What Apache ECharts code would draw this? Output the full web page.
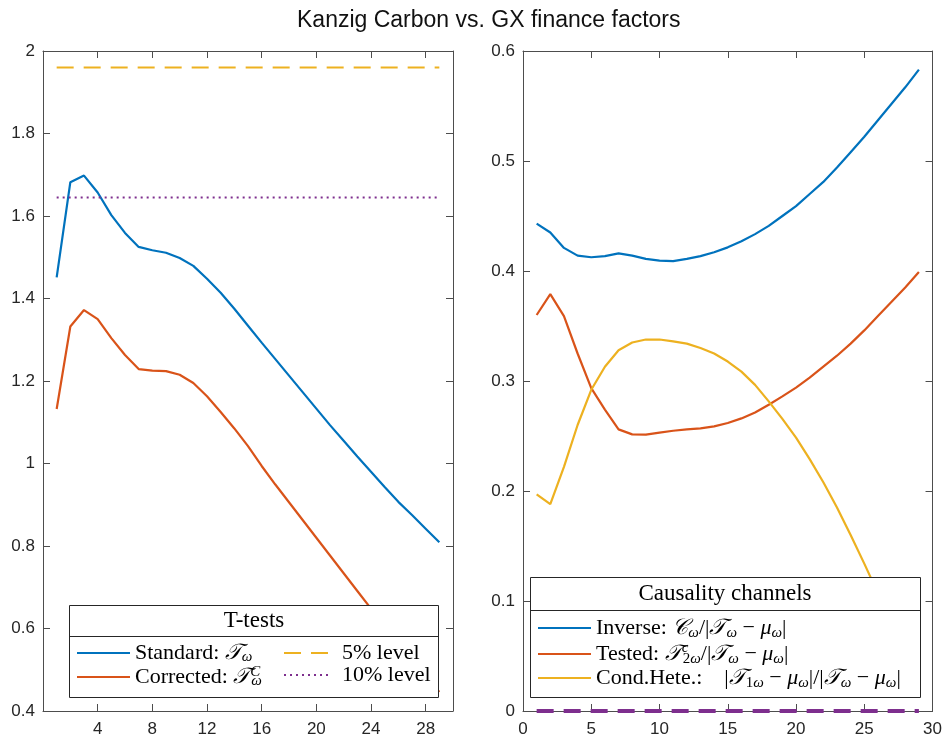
<!DOCTYPE html>
<html>
<head>
<meta charset="utf-8">
<title>Kanzig Carbon vs. GX finance factors</title>
<script src="https://cdn.jsdelivr.net/npm/echarts@6/dist/echarts.min.js"></script>
<style>
  html, body { margin: 0; padding: 0; background: #fff; }
  #chart { width: 945px; height: 738px; }
</style>
</head>
<body>
<div id="chart"></div>
<script>
// horizons (x) shared by both panels
var lags = [1, 2, 3, 4, 5, 6, 7, 8, 9, 10, 11, 12, 13, 14, 15, 16, 17, 18, 19, 20, 21, 22, 23, 24, 25, 26, 27, 28, 29];

// left panel: T-tests
var standardT = [1.451, 1.682, 1.698, 1.657, 1.602, 1.559, 1.525, 1.517, 1.511, 1.498, 1.479, 1.448, 1.414, 1.375, 1.334,
  1.293, 1.253, 1.213, 1.173, 1.133, 1.093, 1.055, 1.017, 0.980, 0.943, 0.907, 0.875, 0.842, 0.809];
var correctedT = [1.132, 1.332, 1.372, 1.350, 1.304, 1.263, 1.229, 1.225, 1.224, 1.215, 1.195, 1.163, 1.125, 1.085, 1.042,
  0.994, 0.949, 0.906, 0.863, 0.820, 0.777, 0.734, 0.691, 0.648, 0.607, 0.566, 0.525, 0.485, 0.446];
var level5 = 1.96;
var level10 = 1.645;

// right panel: causality channels
var inverseCh = [0.443, 0.435, 0.421, 0.414, 0.4125, 0.4135, 0.416, 0.414, 0.411, 0.4095, 0.409, 0.411, 0.4135, 0.417, 0.4215,
  0.427, 0.4335, 0.441, 0.450, 0.459, 0.470, 0.481, 0.494, 0.508, 0.522, 0.537, 0.552, 0.567, 0.583];
var testedCh = [0.360, 0.379, 0.359, 0.325, 0.2935, 0.274, 0.256, 0.2515, 0.2512, 0.253, 0.2548, 0.256, 0.257, 0.2587, 0.2618,
  0.266, 0.2714, 0.2784, 0.286, 0.294, 0.303, 0.313, 0.323, 0.334, 0.346, 0.359, 0.372, 0.385, 0.399];
var condHeteCh = [0.197, 0.188, 0.222, 0.260, 0.292, 0.313, 0.328, 0.335, 0.3377, 0.3377, 0.336, 0.334, 0.330, 0.325, 0.3177,
  0.3085, 0.2965, 0.2815, 0.2655, 0.2485, 0.229, 0.208, 0.185, 0.160, 0.134, 0.107, 0.078, 0.049, 0.019];
var zeroLevel = 0;

var blue = '#0072BD', orange = '#D95319', yellow = '#EDB120', purple = '#7E2F8E';
var axisColor = '#4d4d4d', labelColor = '#262626';

function pairs(ys) {
  return ys.map(function (v, i) { return [lags[i], v]; });
}
function flat(v) {
  return [[lags[0], v], [lags[lags.length - 1], v]];
}

var serif = '"Liberation Serif", "DejaVu Serif", serif';
var sans = '"Liberation Sans", Arial, sans-serif';
var rich = {
  rm: { fontFamily: serif, fontSize: 22, color: '#000', lineHeight: 24 },
  it: { fontFamily: serif, fontSize: 22, fontStyle: 'italic', color: '#000', lineHeight: 24 },
  sub: { fontFamily: serif, fontSize: 15, fontStyle: 'italic', color: '#000', lineHeight: 12, verticalAlign: 'bottom' },
  subr: { fontFamily: serif, fontSize: 15, color: '#000', lineHeight: 12, verticalAlign: 'bottom' },
  sup: { fontFamily: serif, fontSize: 15, fontStyle: 'italic', color: '#000', lineHeight: 12, verticalAlign: 'top', width: 1 },
  pad: { fontFamily: serif, fontSize: 22, lineHeight: 24, width: 5 },
  gap: { fontFamily: serif, fontSize: 22, lineHeight: 24, width: 22 }
};
var denom = '{rm|/|}{it|𝒯}{sub|ω}{rm| − }{it|μ}{sub|ω}{rm||}';
var labels = {
  'Standard': '{rm|Standard: }{it|𝒯}{sub|ω}',
  'Corrected': '{rm|Corrected: }{it|𝒯}{sup|C}{sub|ω}',
  '5% level': '{pad|}{rm|5% level}',
  '10% level': '{pad|}{rm|10% level}',
  'Inverse': '{rm|Inverse: }{it|𝒞}{sub|ω}' + denom,
  'Tested': '{rm|Tested: }{it|𝒯}{sup|c}{subr|2}{sub|ω}' + denom,
  'Cond.Hete.': '{rm|Cond.Hete.:}{gap|}{rm||}{it|𝒯}{subr|1}{sub|ω}{rm| − }{it|μ}{sub|ω}{rm||}' + denom
};

function legendBlock(names, left, top, itemWidth, lineHeight) {
  var r = {};
  Object.keys(rich).forEach(function (k) {
    r[k] = Object.assign({}, rich[k]);
    if (k === 'rm' || k === 'it' || k === 'pad' || k === 'gap') r[k].lineHeight = lineHeight;
  });
  return {
    data: names,
    orient: 'vertical',
    left: left,
    top: top,
    padding: 0,
    itemGap: 0,
    itemWidth: itemWidth,
    itemHeight: 12,
    selectedMode: false,
    z: 20,
    itemStyle: { opacity: 0, borderWidth: 0 },
    formatter: function (name) { return labels[name]; },
    textStyle: { rich: r }
  };
}

function xAxisOf(grid, interval, pos, showLabels, hideEnds) {
  return {
    type: 'value', gridIndex: grid, position: pos, min: 0, max: 30, interval: interval,
    axisLine: { show: true, onZero: false, lineStyle: { color: axisColor, width: 1 } },
    axisTick: { show: true, inside: true, length: 7, lineStyle: { color: axisColor, width: 1 } },
    axisLabel: {
      show: showLabels, color: labelColor, fontSize: 17, fontFamily: sans,
      margin: 10, showMinLabel: !hideEnds, showMaxLabel: !hideEnds
    },
    splitLine: { show: false }
  };
}
function yAxisOf(grid, min, max, interval, pos, showLabels) {
  return {
    type: 'value', gridIndex: grid, position: pos, min: min, max: max, interval: interval,
    axisLine: { show: true, onZero: false, lineStyle: { color: axisColor, width: 1 } },
    axisTick: { show: true, inside: true, length: 7, lineStyle: { color: axisColor, width: 1 } },
    axisLabel: { show: showLabels, color: labelColor, fontSize: 17, fontFamily: sans, margin: 8 },
    splitLine: { show: false }
  };
}

function lineSeries(name, data, xi, color, width, type, z) {
  return {
    name: name, type: 'line', xAxisIndex: xi, yAxisIndex: xi, data: data,
    symbol: 'none', smooth: false, z: z || 3, clip: false,
    lineStyle: { color: color, width: width, type: type || 'solid' },
    itemStyle: { color: color },
    emphasis: { disabled: true }
  };
}

var option = {
  animation: false,
  backgroundColor: '#fff',
  title: {
    text: 'Kanzig Carbon vs. GX finance factors',
    left: 297, top: 9, padding: 0,
    textStyle: { fontFamily: sans, fontSize: 23, fontWeight: 'normal', color: '#111' }
  },
  grid: [
    { left: 43, top: 51, width: 410, height: 661 },
    { left: 523, top: 51, width: 411, height: 661 }
  ],
  xAxis: [
    xAxisOf(0, 4, 'bottom', true, true),
    xAxisOf(0, 4, 'top', false, true),
    xAxisOf(1, 5, 'bottom', true, false),
    xAxisOf(1, 5, 'top', false, false)
  ],
  yAxis: [
    yAxisOf(0, 0.4, 2, 0.2, 'left', true),
    yAxisOf(0, 0.4, 2, 0.2, 'right', false),
    yAxisOf(1, 0, 0.6, 0.1, 'left', true),
    yAxisOf(1, 0, 0.6, 0.1, 'right', false)
  ],
  legend: [
    legendBlock(['Standard', 'Corrected'], 76, 642, 53, 24),
    legendBlock(['5% level', '10% level'], 283, 642, 48, 24),
    legendBlock(['Inverse', 'Tested', 'Cond.Hete.'], 537, 617, 53, 26)
  ],
  series: [
    lineSeries('Standard', pairs(standardT), 0, blue, 2.2),
    lineSeries('Corrected', pairs(correctedT), 0, orange, 2.2),
    lineSeries('5% level', flat(level5), 0, yellow, 2.2, [17, 10]),
    lineSeries('10% level', flat(level10), 0, purple, 2, [2, 4]),
    lineSeries('Inverse', pairs(inverseCh), 2, blue, 2.2),
    lineSeries('Tested', pairs(testedCh), 2, orange, 2.2),
    lineSeries('Cond.Hete.', pairs(condHeteCh), 2, yellow, 2.2),
    lineSeries('zero', flat(zeroLevel), 2, purple, 4, [17, 10], 4)
  ],
  graphic: [
    { type: 'rect', z: 10, shape: { x: 69.5, y: 605.5, width: 369, height: 92 },
      style: { fill: '#fff', stroke: '#262626', lineWidth: 1 } },
    { type: 'line', z: 11, shape: { x1: 69.5, y1: 636.5, x2: 438.5, y2: 636.5 },
      style: { stroke: '#262626', lineWidth: 1 } },
    { type: 'text', z: 11, x: 254, y: 621,
      style: { text: 'T-tests', fontFamily: serif, fontSize: 23, fill: '#000', align: 'center', verticalAlign: 'middle' } },
    { type: 'rect', z: 10, shape: { x: 530.5, y: 577.5, width: 390, height: 120 },
      style: { fill: '#fff', stroke: '#262626', lineWidth: 1 } },
    { type: 'line', z: 11, shape: { x1: 530.5, y1: 610.5, x2: 920.5, y2: 610.5 },
      style: { stroke: '#262626', lineWidth: 1 } },
    { type: 'text', z: 11, x: 725, y: 594,
      style: { text: 'Causality channels', fontFamily: serif, fontSize: 23, fill: '#000', align: 'center', verticalAlign: 'middle' } }
  ]
};

var myChart = echarts.init(document.getElementById('chart'), null, { renderer: 'canvas' });
myChart.setOption(option);
window.addEventListener('resize', myChart.resize);
</script>
</body>
</html>
